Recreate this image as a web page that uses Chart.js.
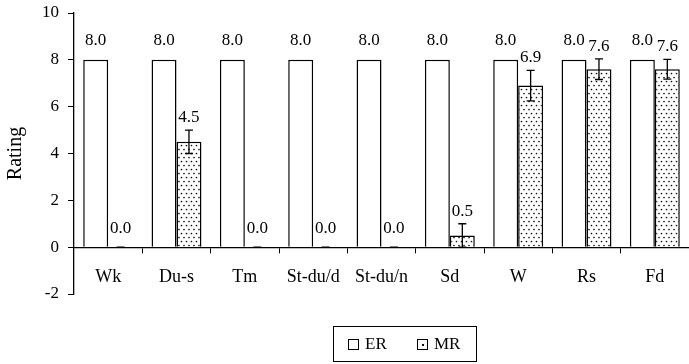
<!DOCTYPE html>
<html><head><meta charset="utf-8">
<script src="https://cdn.jsdelivr.net/npm/chart.js@4"></script>
<style>
html,body{margin:0;padding:0;background:#fff;}
#wrap{position:relative;width:689px;height:364px;}
#legend{position:absolute;left:333px;top:326px;width:142px;height:34px;border:1px solid #000;font-family:"Liberation Serif","Times New Roman",Times,serif;font-size:17px;color:#000;}
.item{position:absolute;top:8px;line-height:18px;}
.sw{display:inline-block;width:9px;height:9px;border:1px solid #000;vertical-align:-1px;margin-right:6px;position:relative;background:#fff;}
.sw.mr::after{content:"";position:absolute;left:4px;top:4px;width:2px;height:2px;background:#111;}
</style>
</head><body>
<div id="wrap"><canvas id="c" width="689" height="364"></canvas>
<div id="legend"><span class="item" style="left:14px"><span class="sw"></span>ER</span><span class="item" style="left:83px"><span class="sw mr"></span>MR</span></div>
</div>
<script>
const categories = ["Wk","Du-s","Tm","St-du/d","St-du/n","Sd","W","Rs","Fd"];
const erValues = [8.0,8.0,8.0,8.0,8.0,8.0,8.0,8.0,8.0];
const mrValues = [0.0,4.5,0.0,0.0,0.0,0.5,6.9,7.6,7.6];
const mrErrors = [0.0,0.5,0.0,0.0,0.0,0.5,0.65,0.44,0.42];
const yTicks = [-2,0,2,4,6,8,10];

function makePattern(){
  const t=document.createElement('canvas'); t.width=5; t.height=8;
  const g=t.getContext('2d');
  g.fillStyle='#fff'; g.fillRect(0,0,5,8);
  g.fillStyle='#111';
  g.beginPath(); g.arc(1.5,1.5,0.85,0,Math.PI*2); g.fill();
  g.beginPath(); g.arc(4,5.5,0.85,0,Math.PI*2); g.fill();
  return document.getElementById('c').getContext('2d').createPattern(t,'repeat');
}
const FONT = '"Liberation Serif", "Times New Roman", Times, serif';

const overlay = {
  id:'overlay',
  afterDatasetsDraw(chart){
    const ctx=chart.ctx, ys=chart.scales.y;
    ctx.save();
    ctx.fillStyle='#000'; ctx.strokeStyle='#000';
    ctx.font='17px '+FONT; ctx.textAlign='center'; ctx.textBaseline='alphabetic';
    const m0=chart.getDatasetMeta(0), m1=chart.getDatasetMeta(1);
    m0.data.forEach((b,i)=>{
      ctx.fillText(erValues[i].toFixed(1), b.x, b.y-15);
    });
    m1.data.forEach((b,i)=>{
      const v=mrValues[i], e=mrErrors[i];
      const top=ys.getPixelForValue(v+e), bot=ys.getPixelForValue(Math.max(0,v-e));
      ctx.lineWidth=1.3;
      ctx.beginPath();
      ctx.moveTo(b.x,top); ctx.lineTo(b.x,bot);
      ctx.moveTo(b.x-4,top); ctx.lineTo(b.x+4,top);
      ctx.moveTo(b.x-4,bot); ctx.lineTo(b.x+4,bot);
      ctx.stroke();
      const by=Math.min(b.y-14, top-8);
      ctx.fillText(v.toFixed(1), b.x, by);
    });
    ctx.restore();
  }
};

new Chart(document.getElementById('c'),{
  type:'bar',
  data:{labels:categories,datasets:[
    {label:'ER',data:erValues,backgroundColor:'#fff',borderColor:'#000',borderWidth:1.5,barPercentage:1,categoryPercentage:0.73},
    {label:'MR',data:mrValues,backgroundColor:makePattern(),borderColor:'#000',borderWidth:1.5,barPercentage:1,categoryPercentage:0.73}
  ]},
  options:{
    responsive:false,animation:false,
    layout:{padding:{top:13,right:0,bottom:70,left:0}},
    plugins:{legend:{display:false},tooltip:{enabled:false}},
    scales:{
      x:{position:{y:0},offset:true,
        grid:{display:true,drawOnChartArea:false,offset:true,tickLength:5,color:'#000',lineWidth:1},
        border:{display:true,color:'#000',width:1.3},
        ticks:{color:'#000',font:{family:FONT,size:18},padding:14,maxRotation:0,autoSkip:false}},
      y:{min:-2,max:10,
        afterFit(s){s.width=74;s.paddingTop=0;s.paddingBottom=0;},
        afterBuildTicks(s){s.ticks=yTicks.map(v=>({value:v}));},
        grid:{drawOnChartArea:false,tickLength:6,color:'#000',lineWidth:1},
        border:{display:true,color:'#000',width:1.3},
        ticks:{color:'#000',font:{family:FONT,size:17},padding:9},
        title:{display:true,text:'Rating',color:'#000',font:{family:FONT,size:20},padding:{top:4,bottom:0}}}
    }
  },
  plugins:[overlay]
});
</script>
</body></html>
